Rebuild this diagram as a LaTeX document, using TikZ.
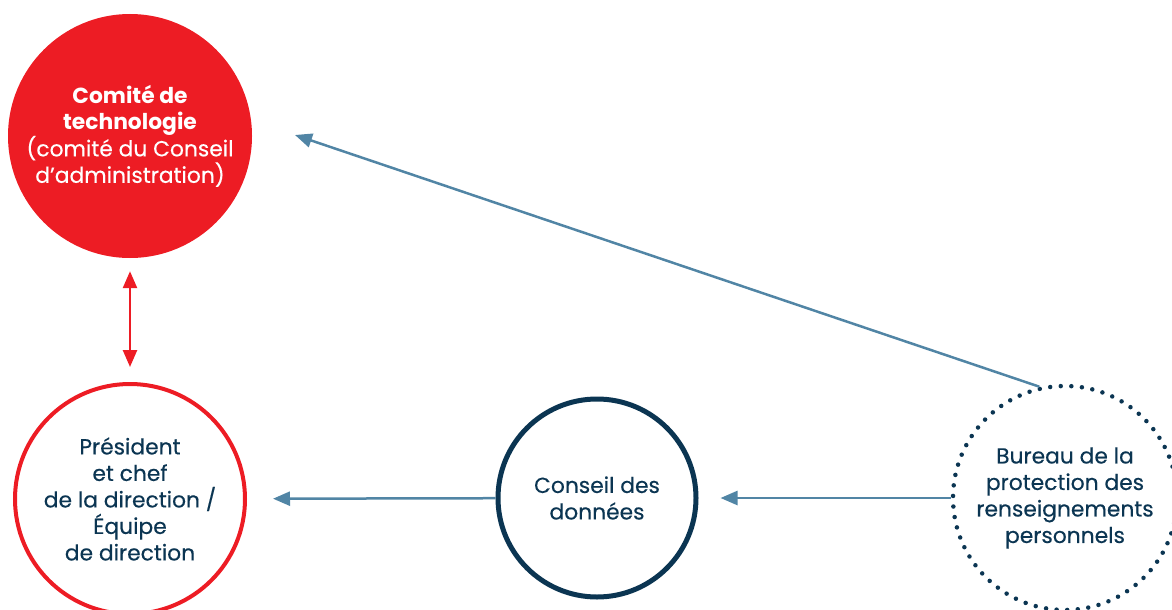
\documentclass[tikz,border=0pt]{standalone}
\usepackage{fontspec}
\setmainfont{Poppins}[FakeBold=0.35, BoldFeatures={FakeBold=0}]
\usetikzlibrary{arrows.meta}
\definecolor{rouge}{HTML}{ED1C24}
\definecolor{marine}{HTML}{0B3552}
\definecolor{acier}{HTML}{5185A5}
\tikzset{>={Triangle[length=17pt,width=14pt]}}
\tikzset{
    bulle/.style={circle, inner sep=0pt, align=center, text=marine,
        font=\fontsize{21.8}{26.5}\selectfont},
    fleche/.style={->, acier, line width=2.5pt}
}

\begin{document}
\begin{tikzpicture}[x=1pt, y=-1pt]
    \useasboundingbox (0,0) rectangle (1172,610);
    \node[bulle, fill=rouge, text=white, minimum size=244pt] (comite) at (130,136)
        {\textbf{Comité de}\\ \textbf{technologie}\\ (comité du Conseil\\ d’administration)};
    \node[bulle, draw=rouge, line width=4pt, minimum size=230pt] (pdg) at (130,499)
        {Président\\ et chef\\ de la direction /\\ Équipe\\ de direction};
    \node[bulle, draw=marine, line width=5pt, minimum size=198pt] (donnees) at (597,498)
        {Conseil des\\ données};
    \node[bulle, draw=marine, line width=4.5pt, line cap=round,
        dash pattern=on 0pt off 10.6pt, minimum size=224pt] (bureau) at (1065,498)
        {Bureau de la\\ protection des\\ renseignements\\ personnels};
    \coordinate (cible) at (295,135);
    \draw[<->, rouge, line width=2.5pt, shorten <=13pt, shorten >=15pt] (comite) -- (pdg);
    \draw[fleche] (bureau.103) -- (cible);
    \draw[fleche, shorten >=26pt] (donnees) -- (pdg);
    \draw[fleche, shorten >=22pt] (bureau) -- (donnees);
\end{tikzpicture}
\end{document}
